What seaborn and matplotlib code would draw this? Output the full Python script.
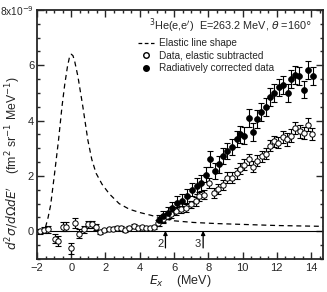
import matplotlib
matplotlib.use("Agg")
import matplotlib.pyplot as plt
from matplotlib.lines import Line2D
from matplotlib.ticker import MultipleLocator
import numpy as np
import pandas as pd
import seaborn as sns

# elastic line shape (units of 1e-9)
elastic_x = [-1.5, -1.35, -1.2, -0.97, -0.74, -0.54, -0.38, -0.22, -0.1, 0.0, 0.1, 0.2, 0.39,
             0.68, 0.97, 1.2, 1.45, 1.8, 2.23, 2.8, 3.39, 4.0, 4.65, 5.3, 6.0, 7.15, 8.5, 10.0,
             12.0, 14.7]
elastic_y = [0.15, 0.5, 0.95, 2.1, 3.3, 4.5, 5.3, 5.95, 6.3, 6.4, 6.35, 6.15, 5.6,
             4.5, 3.3, 2.6, 2.1, 1.7, 1.35, 1.0, 0.8, 0.68, 0.58, 0.47, 0.38, 0.32, 0.28, 0.25,
             0.21, 0.18]

# data, elastic subtracted (open circles)
open_x = [-1.84, -1.6, -1.36, -0.97, -0.78, -0.48, -0.29, -0.04, 0.23, 0.48, 0.74, 0.97,
          1.2, 1.45, 1.7, 1.94, 2.18, 2.42, 2.66, 2.9, 3.14, 3.39, 3.64, 3.88, 4.12, 4.36,
          4.6, 4.85, 5.09, 5.33, 5.58, 5.85, 6.1, 6.4, 6.7, 6.98, 7.27, 7.46, 7.75, 8.04,
          8.33, 8.57, 8.86, 9.1, 9.4, 9.65, 9.84, 10.1, 10.37, 10.62, 10.87, 11.14, 11.34,
          11.59, 11.82, 12.07, 12.34, 12.6, 12.85, 13.08, 13.33, 13.56, 13.82, 14.05]
open_y = [0.0, 0.05, 0.07, -0.26, -0.35, 0.17, 0.17, -0.62, 0.29, -0.08, 0.07, 0.25,
          0.25, 0.16, -0.02, 0.04, 0.07, 0.1, 0.13, 0.13, 0.04, 0.13, 0.19, 0.13, 0.14, 0.13,
          0.13, 0.14, 0.3, 0.43, 0.55, 0.61, 0.73, 0.79, 0.85, 0.97, 1.09, 1.27, 1.33, 1.75,
          1.39, 1.54, 1.66, 1.94, 1.94, 2.1, 2.26, 2.4, 2.6, 2.33, 2.55, 2.72, 2.8,
          3.1, 3.26, 3.2, 3.4, 3.32, 3.46, 3.74, 3.61, 3.56, 3.86, 3.53]
open_err = [0.08, 0.1, 0.12, 0.15, 0.18, 0.17, 0.17, 0.2, 0.18, 0.15, 0.12, 0.12,
            0.12, 0.1, 0.08, 0.06, 0.06, 0.06, 0.06, 0.06, 0.06, 0.06, 0.08, 0.06, 0.06, 0.06,
            0.06, 0.06, 0.1, 0.12, 0.12, 0.12, 0.14, 0.14, 0.14, 0.14, 0.16, 0.16, 0.16, 0.18,
            0.18, 0.18, 0.18, 0.2, 0.2, 0.2, 0.2, 0.2, 0.2, 0.2, 0.2, 0.2, 0.2,
            0.2, 0.2, 0.2, 0.22, 0.22, 0.22, 0.22, 0.22, 0.22, 0.22, 0.22]

# radiatively corrected data (filled circles)
full_x = [5.1, 5.33, 5.62, 5.9, 6.2, 6.49, 6.78, 7.07, 7.33, 7.56, 7.85, 8.1, 8.39, 8.62,
          8.87, 9.1, 9.4, 9.65, 9.88, 10.1, 10.37, 10.62, 10.85, 11.1, 11.34, 11.63, 11.82,
          12.1, 12.36, 12.63, 12.85, 13.08, 13.31, 13.56, 13.82, 14.09]
full_y = [0.4, 0.55, 0.67, 0.85, 1.03, 1.09, 1.27, 1.51, 1.63, 1.75, 2.05, 2.62, 2.18, 2.42,
          2.72, 2.9, 3.05, 3.34, 3.5, 3.46, 4.1, 3.58, 4.05, 4.3, 4.5, 4.85, 5.0,
          5.2, 5.3, 5.0, 5.5, 5.66, 5.62, 5.12, 5.84, 5.62]
full_err = [0.2, 0.2, 0.22, 0.22, 0.25, 0.25, 0.25, 0.25, 0.28, 0.28, 0.28, 0.3, 0.3, 0.3,
            0.3, 0.3, 0.3, 0.3, 0.3, 0.3, 0.32, 0.32, 0.32, 0.32, 0.32, 0.32, 0.32,
            0.32, 0.32, 0.32, 0.32, 0.32, 0.32, 0.32, 0.32, 0.32]

levels_x = [5.5, 7.7]
levels_lbl = ["2", "3"]

sns.set_style("ticks")
plt.rcParams["font.family"] = ["Liberation Sans", "DejaVu Sans"]
plt.rcParams["mathtext.fontset"] = "dejavusans"

fig = plt.figure(figsize=(3.27, 2.92), dpi=100)
ax = fig.add_axes([0.113, 0.113, 0.875, 0.853])

ax.axhline(0, color="black", lw=0.8, zorder=1)

elastic = pd.DataFrame({"x": elastic_x, "y": elastic_y})
sns.lineplot(data=elastic, x="x", y="y", ax=ax, color="black", lw=0.9,
             linestyle=(0, (4, 3)), sort=False, zorder=2)

ax.errorbar(open_x, open_y, yerr=open_err, fmt="none", ecolor="black", elinewidth=0.8,
            capsize=2.2, capthick=0.8, zorder=3)
ax.errorbar(full_x, full_y, yerr=full_err, fmt="none", ecolor="black", elinewidth=0.8,
            capsize=2.2, capthick=0.8, zorder=3)
sns.scatterplot(x=open_x, y=open_y, ax=ax, marker="o", s=15, facecolor="white",
                edgecolor="black", linewidth=0.7, zorder=4)
sns.scatterplot(x=full_x, y=full_y, ax=ax, marker="o", s=18, color="black",
                edgecolor="black", linewidth=0.5, zorder=4)

for lx, lb in zip(levels_x, levels_lbl):
    ax.annotate("", xy=(lx, 0.02), xytext=(lx, -0.6),
                arrowprops=dict(arrowstyle="-|>", lw=0.9, color="black",
                                mutation_scale=6, shrinkA=0, shrinkB=0))
    ax.text(lx - 0.12, -0.45, lb, ha="right", va="center", fontsize=8)

ax.set_xlim(-2, 14.7)
ax.set_ylim(-1, 8)
ax.set_xticks([-2, 0, 2, 4, 6, 8, 10, 12, 14])
ax.set_yticks([0, 2, 4, 6, 8])
ax.set_yticklabels(["0", "2", "4", "6", "8x10$^{-9}$"])
ax.xaxis.set_minor_locator(MultipleLocator(0.5))
ax.yaxis.set_minor_locator(MultipleLocator(0.5))
ax.tick_params(which="both", direction="in", top=True, right=True, labelsize=8, width=1)
ax.tick_params(which="major", length=5)
ax.tick_params(which="minor", length=2.5)
ax.tick_params(axis="y", pad=2)
ax.tick_params(axis="x", pad=3)
ax.get_yticklabels()[-1].set_fontsize(7.3)
for sp in ax.spines.values():
    sp.set_linewidth(1.3)

ax.set_xlabel(r"$E_x$    (MeV)", fontsize=9, labelpad=0)
ax.set_ylabel(r"$d^2\sigma/d\Omega dE'$    (fm$^2$ sr$^{-1}$ MeV$^{-1}$)", fontsize=8.8, labelpad=0)
ax.yaxis.set_label_coords(-0.05, 0.385)

ax.text(0.39, 0.935, r"$^3$He(e,e$'$)  E=263.2 MeV, $\theta$ =160$\degree$", transform=ax.transAxes,
        fontsize=7.8, ha="left", va="center")
handles = [
    Line2D([], [], color="black", lw=0.9, linestyle=(0, (3, 2))),
    Line2D([], [], marker="o", color="none", markerfacecolor="white", markeredgecolor="black",
           markersize=4),
    Line2D([], [], marker="o", color="none", markerfacecolor="black", markeredgecolor="black",
           markersize=4),
]
ax.legend(handles, ["Elastic line shape", "Data, elastic subtracted", "Radiatively corrected data"],
          loc="upper left", bbox_to_anchor=(0.33, 0.915), frameon=False, fontsize=7.2,
          handlelength=1.6, handletextpad=0.5, labelspacing=0.25, borderpad=0.2)

fig.savefig("out.png", dpi=100)
